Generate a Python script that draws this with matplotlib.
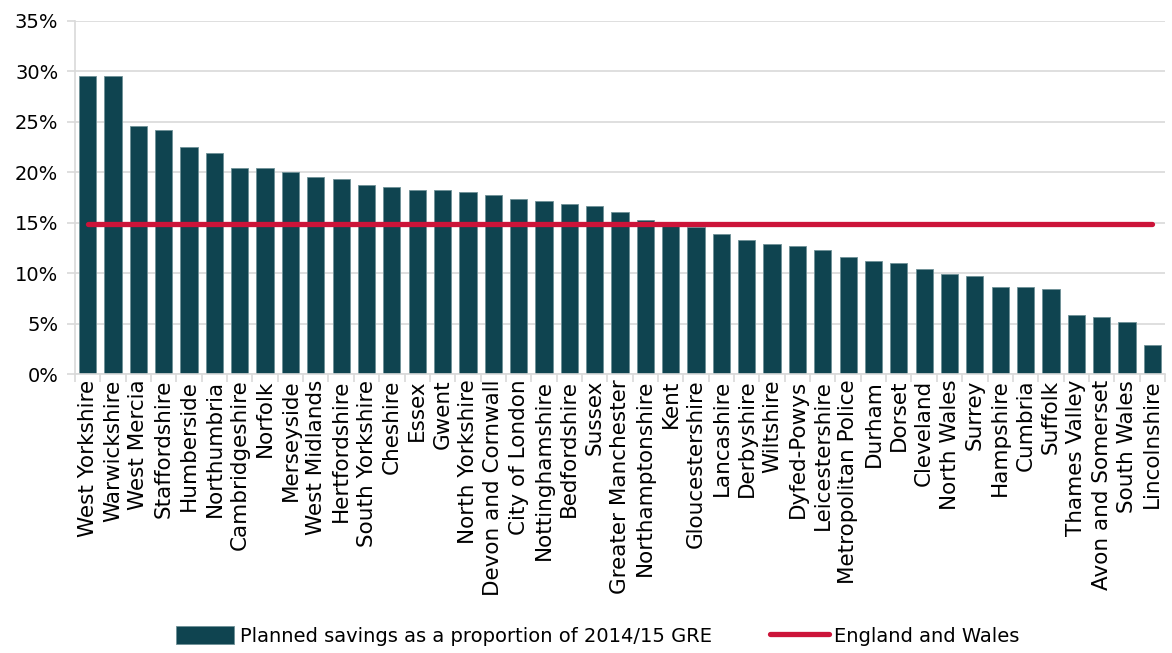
import matplotlib
matplotlib.use("Agg")
import matplotlib.pyplot as plt
from matplotlib.ticker import FuncFormatter, MultipleLocator, FixedLocator

forces = [
    "West Yorkshire", "Warwickshire", "West Mercia", "Staffordshire", "Humberside",
    "Northumbria", "Cambridgeshire", "Norfolk", "Merseyside", "West Midlands",
    "Hertfordshire", "South Yorkshire", "Cheshire", "Essex", "Gwent",
    "North Yorkshire", "Devon and Cornwall", "City of London", "Nottinghamshire",
    "Bedfordshire", "Sussex", "Greater Manchester", "Northamptonshire", "Kent",
    "Gloucestershire", "Lancashire", "Derbyshire", "Wiltshire", "Dyfed-Powys",
    "Leicestershire", "Metropolitan Police", "Durham", "Dorset", "Cleveland",
    "North Wales", "Surrey", "Hampshire", "Cumbria", "Suffolk", "Thames Valley",
    "Avon and Somerset", "South Wales", "Lincolnshire",
]
savings_pct = [
    29.5, 29.5, 24.6, 24.2, 22.5, 21.95, 20.45, 20.45, 20.05, 19.5,
    19.3, 18.75, 18.55, 18.2, 18.2, 18.0, 17.8, 17.4, 17.2, 16.85,
    16.65, 16.1, 15.3, 14.9, 14.6, 13.85, 13.3, 12.9, 12.7, 12.35,
    11.6, 11.2, 11.0, 10.45, 9.9, 9.7, 8.6, 8.6, 8.4, 5.9,
    5.7, 5.15, 2.9,
]
england_wales_pct = 14.9

bar_color = "#0f4450"
line_color = "#cc1439"
grid_color = "#d9d9d9"

fig = plt.figure(figsize=(11.72, 6.53), dpi=100)
ax = fig.add_axes([0.064, 0.427, 0.930, 0.541])

x = list(range(len(forces)))
bars = ax.bar(x, savings_pct, width=0.68, color=bar_color, edgecolor="#6f9197",
              linewidth=0.6, zorder=2)
line, = ax.plot([x[0], x[-1]], [england_wales_pct, england_wales_pct], color=line_color,
                linewidth=3.8, solid_capstyle="round", zorder=3)

ax.set_xlim(-0.5, len(forces) - 0.5)
ax.set_ylim(0, 35)
ax.yaxis.set_major_locator(MultipleLocator(5))
ax.yaxis.set_major_formatter(FuncFormatter(lambda v, p: f"{v:.0f}%"))
ax.grid(axis="y", color=grid_color, linewidth=1.2, zorder=0)
ax.set_axisbelow(True)

ax.set_xticks(x)
ax.set_xticklabels(forces, rotation=90, fontsize=15.5)
ax.tick_params(axis="x", which="major", length=0, pad=4)
ax.xaxis.set_minor_locator(FixedLocator([i - 0.5 for i in range(len(forces) + 1)]))
ax.tick_params(axis="x", which="minor", length=6, color=grid_color, width=1.2)
ax.tick_params(axis="y", length=6, color=grid_color, width=1.2, labelsize=14, pad=6)

for side in ["top", "right"]:
    ax.spines[side].set_visible(False)
for side in ["left", "bottom"]:
    ax.spines[side].set_color(grid_color)
    ax.spines[side].set_linewidth(1.2)

fig.legend([bars, line],
           ["Planned savings as a proportion of 2014/15 GRE", "England and Wales"],
           loc="center", bbox_to_anchor=(0.51, 0.026), ncol=2, frameon=False,
           fontsize=14, handlelength=3.0, handleheight=1.0, columnspacing=3.0,
           handletextpad=0.3)

fig.savefig("out.png", dpi=100)
